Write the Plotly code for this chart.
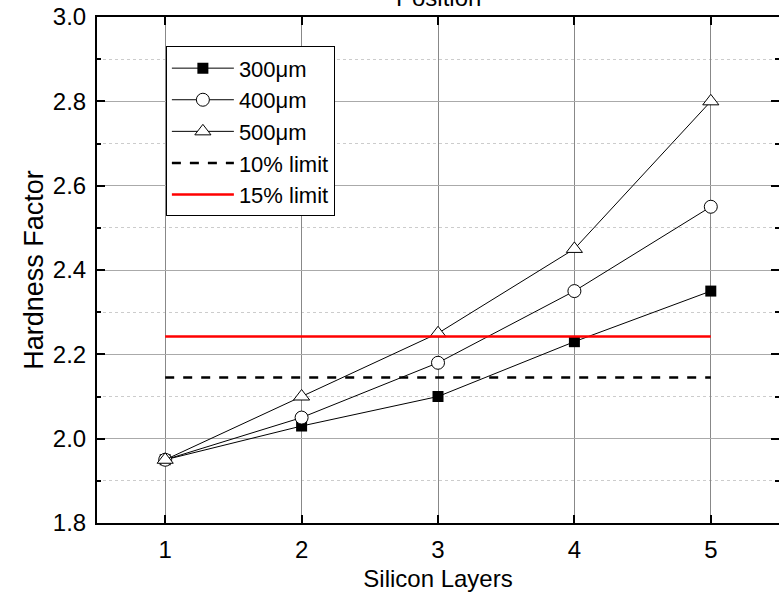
import plotly.graph_objects as go

layers = [1, 2, 3, 4, 5]
hf_300 = [1.95, 2.03, 2.10, 2.23, 2.35]
hf_400 = [1.95, 2.05, 2.18, 2.35, 2.55]
hf_500 = [1.95, 2.10, 2.25, 2.45, 2.80]
limit_10 = [2.145, 2.145]
limit_15 = [2.2425, 2.2425]
limit_x = [1, 5]

FONT = "Arial, Liberation Sans, sans-serif"
TICK = 24

fig = go.Figure()
fig.add_trace(go.Scatter(x=layers, y=hf_300, name="300μm", mode="lines+markers",
                         line=dict(color="black", width=1),
                         marker=dict(symbol="square", size=11, color="black")))
fig.add_trace(go.Scatter(x=layers, y=hf_400, name="400μm", mode="lines+markers",
                         line=dict(color="black", width=1),
                         marker=dict(symbol="circle", size=13, color="white",
                                     line=dict(color="black", width=1))))
fig.add_trace(go.Scatter(x=layers, y=hf_500, name="500μm", mode="lines+markers",
                         line=dict(color="black", width=1),
                         marker=dict(symbol="triangle-up", size=14, color="white",
                                     line=dict(color="black", width=1))))
fig.add_trace(go.Scatter(x=limit_x, y=limit_10, name="10% limit", mode="lines",
                         line=dict(color="black", width=2.5, dash="dash")))
fig.add_trace(go.Scatter(x=limit_x, y=limit_15, name="15% limit", mode="lines",
                         line=dict(color="#ff0000", width=2.5)))

fig.update_layout(
    xaxis=dict(range=[0.5, 5.5], tickmode="array", tickvals=layers, ticktext=[str(v) for v in layers],
               automargin=False,
               showgrid=True, gridcolor="#888888", gridwidth=1,
               showline=True, linecolor="black", linewidth=2, mirror="ticks",
               ticks="inside", ticklen=8, tickwidth=2, tickcolor="black",
               zeroline=False, tickfont=dict(family=FONT, size=TICK, color="black"),
               ticklabelstandoff=4,
               title=dict(text="Silicon Layers", font=dict(family=FONT, size=24, color="black"),
                          standoff=17)),
    yaxis=dict(range=[1.8, 3.0], dtick=0.2, tickformat=".1f", showgrid=True,
               automargin=False,
               gridcolor="#aaaaaa", gridwidth=1,
               showline=True, linecolor="black", linewidth=2, mirror="ticks",
               ticks="inside", ticklen=8, tickwidth=2, tickcolor="black",
               zeroline=False, tickfont=dict(family=FONT, size=TICK, color="black"),
               ticklabelstandoff=4,
               minor=dict(dtick=0.1, showgrid=True, gridcolor="#cccccc", griddash="dot",
                          ticks="inside", ticklen=4, tickwidth=2, tickcolor="black"),
               title=dict(text="Hardness Factor", font=dict(family=FONT, size=27, color="black"),
                          standoff=1)),
)

fig.add_annotation(text="Position", xref="paper", yref="paper", x=0.5, y=1,
                   yanchor="bottom", yshift=4, showarrow=False,
                   font=dict(family=FONT, size=24, color="black"))

fig.update_layout(
    width=779, height=592,
    margin=dict(l=97, r=0, t=17, b=69),
    paper_bgcolor="white", plot_bgcolor="white",
    font=dict(family=FONT, size=20, color="black"),
    legend=dict(x=0.101, y=0.942, xanchor="left", yanchor="top",
                bgcolor="white", bordercolor="black", borderwidth=1,
                font=dict(family=FONT, size=22, color="black"), itemwidth=62,
                tracegroupgap=0),
    showlegend=True,
)

fig.write_html("out.html")
